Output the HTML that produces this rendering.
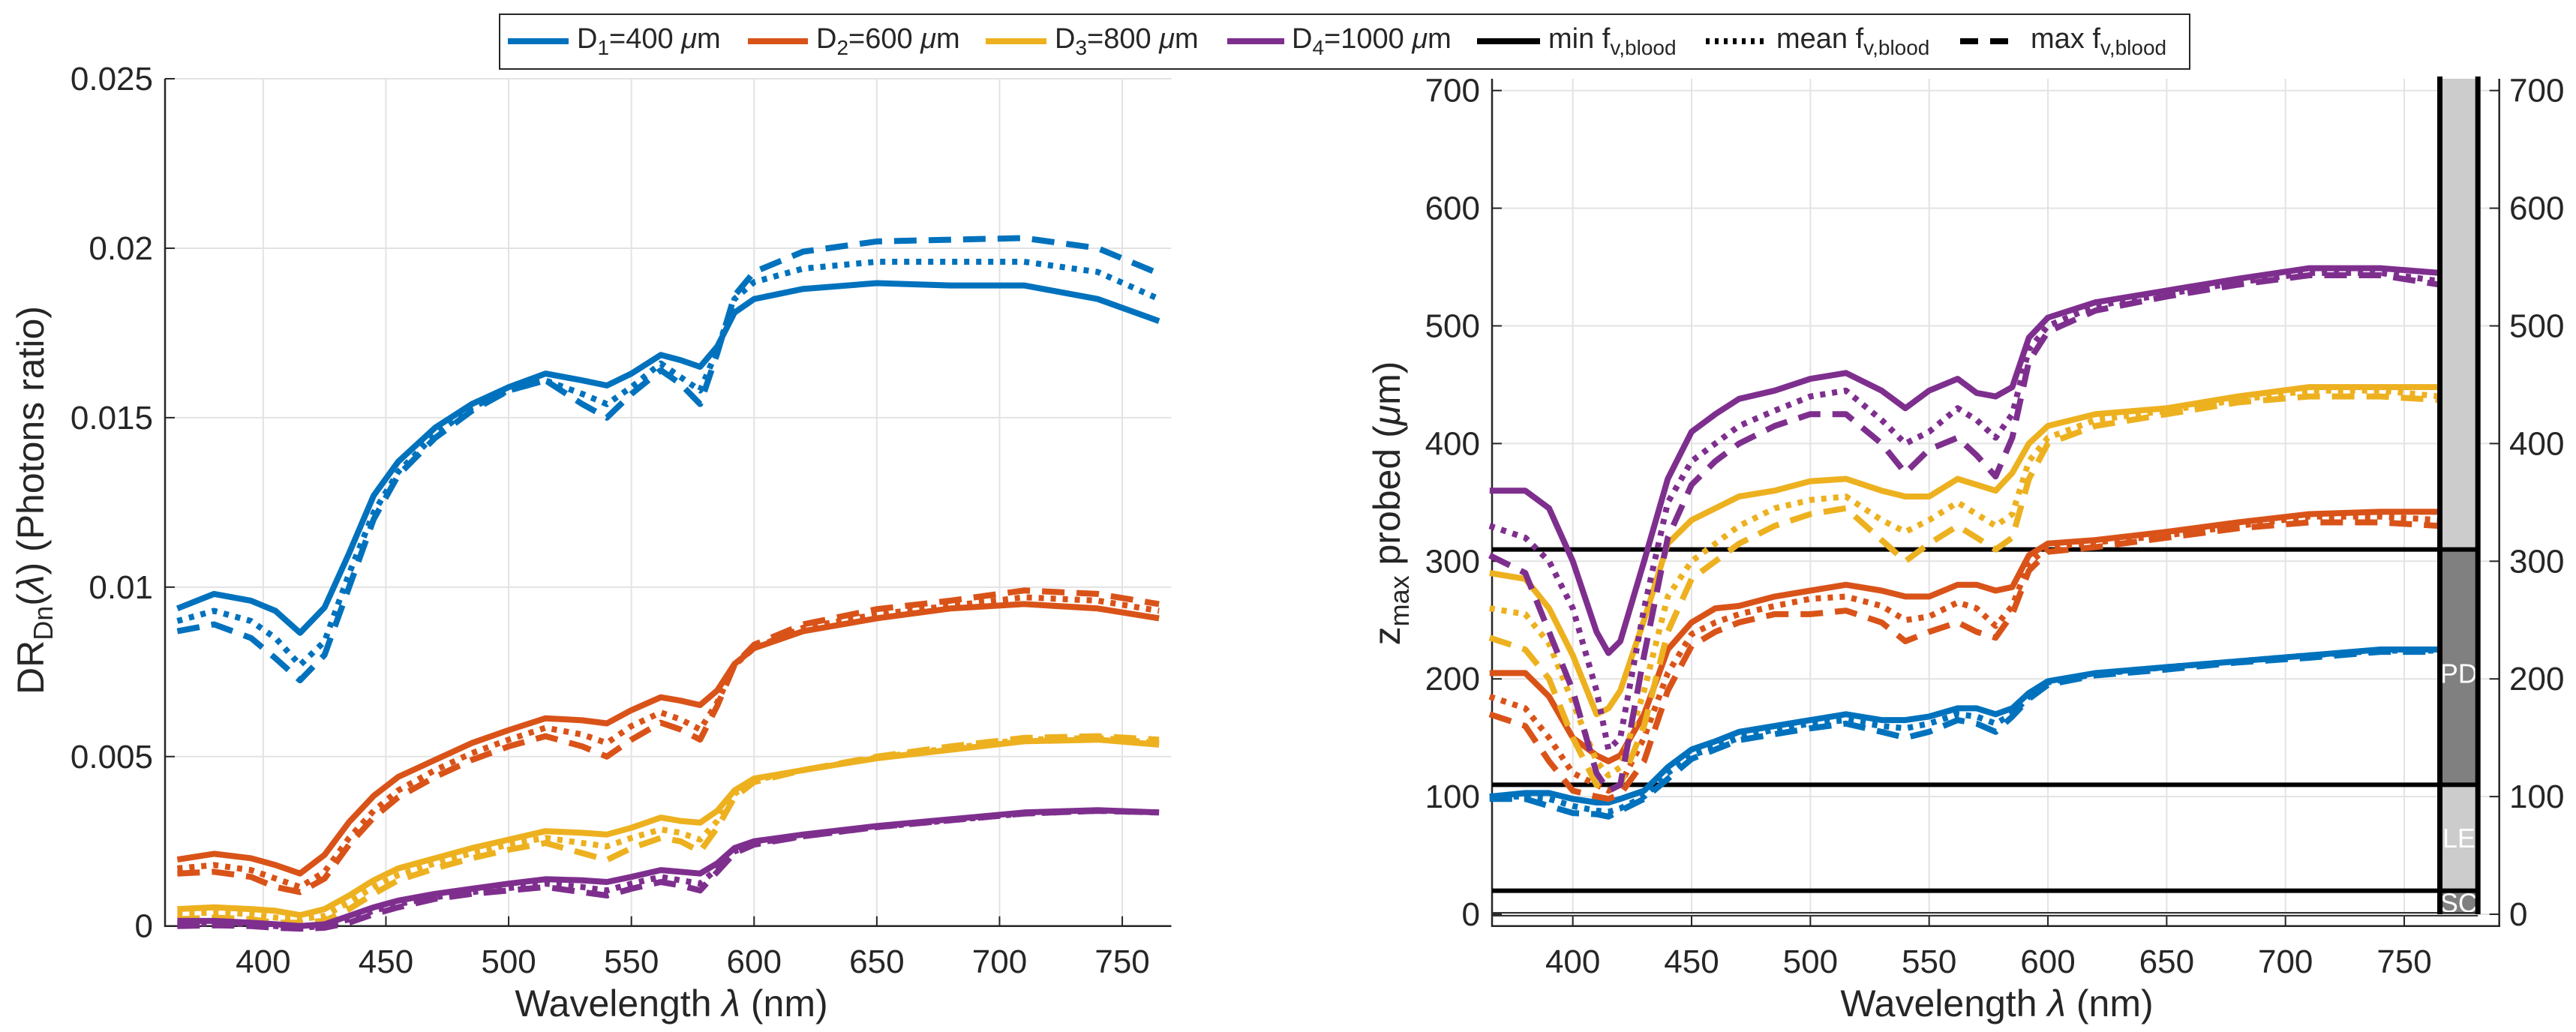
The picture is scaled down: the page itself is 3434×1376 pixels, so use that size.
<!DOCTYPE html>
<html><head><meta charset="utf-8"><style>
html,body{margin:0;padding:0;background:#fff}
svg{display:block}
text{font-family:"Liberation Sans",sans-serif;fill:#262626}
</style></head><body>
<svg id="chart" width="3434" height="1376" viewBox="0 0 3434 1376" xmlns="http://www.w3.org/2000/svg">
<g id="left"></g>
<g id="right"></g>
<g id="legend"></g>
</svg>
<script>
// ---------- data ----------
const wlLeft = [365,380,395,405,415,425,435,445,455,470,485,500,515,530,540,550,562,570,578,585,592,600,620,650,680,710,740,765];
const blueMinL  = [9.37,9.8,9.6,9.3,8.65,9.4,11.0,12.7,13.7,14.7,15.4,15.9,16.3,16.1,15.95,16.3,16.85,16.7,16.5,17.1,18.1,18.5,18.8,18.97,18.9,18.9,18.5,17.85];
const blueMeanL = [9.0,9.3,9.0,8.5,7.7,8.4,10.4,12.2,13.4,14.5,15.3,15.8,16.1,15.7,15.4,15.9,16.6,16.2,15.8,17.0,18.5,19.0,19.4,19.6,19.6,19.6,19.3,18.5];
const blueMaxL  = [8.7,8.9,8.5,7.9,7.25,8.0,10.0,12.0,13.3,14.4,15.2,15.8,16.1,15.4,15.0,15.7,16.4,16.0,15.4,16.9,18.6,19.3,19.9,20.2,20.25,20.3,20.0,19.25];
const redMinL   = [1.96,2.13,2.0,1.8,1.55,2.1,3.07,3.84,4.4,4.9,5.4,5.78,6.13,6.07,5.98,6.37,6.75,6.65,6.52,6.95,7.73,8.2,8.7,9.08,9.37,9.5,9.37,9.08];
const redMeanL  = [1.7,1.8,1.65,1.4,1.15,1.6,2.6,3.4,4.0,4.6,5.1,5.5,5.85,5.65,5.4,5.9,6.3,6.1,5.8,6.6,7.7,8.2,8.8,9.2,9.45,9.7,9.6,9.3];
const redMaxL   = [1.55,1.6,1.45,1.15,1.0,1.4,2.4,3.2,3.8,4.4,4.9,5.3,5.6,5.3,5.0,5.5,6.0,5.8,5.5,6.5,7.7,8.3,8.9,9.35,9.6,9.9,9.8,9.5];
const yelMinL   = [0.5,0.55,0.5,0.45,0.32,0.5,0.9,1.35,1.7,2.0,2.3,2.55,2.8,2.75,2.7,2.9,3.2,3.1,3.05,3.4,4.0,4.35,4.6,4.95,5.2,5.45,5.5,5.35];
const yelMeanL  = [0.35,0.4,0.35,0.25,0.2,0.3,0.7,1.15,1.5,1.85,2.15,2.4,2.6,2.45,2.35,2.6,2.85,2.75,2.55,3.1,3.9,4.3,4.6,4.97,5.25,5.5,5.55,5.4];
const yelMaxL   = [0.2,0.25,0.2,0.1,0.1,0.15,0.5,0.95,1.35,1.7,2.0,2.25,2.45,2.15,1.95,2.3,2.6,2.5,2.2,2.9,3.8,4.25,4.6,5.0,5.3,5.55,5.6,5.5];
const purMinL   = [0.15,0.15,0.1,0.05,0.0,0.05,0.3,0.55,0.75,0.95,1.1,1.25,1.38,1.35,1.3,1.45,1.65,1.6,1.55,1.85,2.3,2.5,2.7,2.95,3.15,3.35,3.42,3.35];
const purMeanL  = [0.05,0.08,0.05,0.0,-0.05,0.0,0.2,0.45,0.65,0.85,1.0,1.12,1.25,1.15,1.05,1.25,1.45,1.35,1.25,1.7,2.2,2.45,2.65,2.92,3.12,3.32,3.4,3.35];
const purMaxL   = [0.0,0.02,0.0,-0.05,-0.08,-0.05,0.1,0.35,0.55,0.8,0.95,1.05,1.15,1.0,0.9,1.1,1.3,1.2,1.05,1.6,2.15,2.4,2.65,2.92,3.12,3.32,3.4,3.35];

const wlRight = [365,380,390,400,410,415,420,430,440,450,460,470,485,500,515,530,540,550,562,570,578,585,592,600,620,650,680,710,740,765];
const purMinR  = [360,360,345,300,240,222,232,300,370,410,425,438,445,455,460,445,430,445,455,443,440,448,490,507,520,530,540,549,549,545];
const purMeanR = [330,320,300,260,190,140,150,260,350,385,400,415,428,440,445,420,400,410,430,420,405,425,480,500,517,527,537,545,545,538];
const purMaxR  = [305,290,240,190,120,105,110,220,320,365,385,400,415,425,425,400,375,395,405,390,372,405,470,495,513,525,535,543,543,535];
const yelMinR  = [290,285,260,220,170,175,190,250,315,335,345,355,360,368,370,360,355,355,370,365,360,375,400,415,425,430,440,448,448,448];
const yelMeanR = [260,255,230,180,130,118,125,190,270,300,315,330,345,352,355,335,325,335,350,340,330,340,385,405,420,428,437,445,445,440];
const yelMaxR  = [235,225,200,150,110,105,110,160,240,285,300,315,330,340,345,318,300,315,330,320,310,320,370,400,415,425,435,440,440,437];
const redMinR  = [205,205,185,150,135,130,135,170,225,248,260,262,270,275,280,275,270,270,280,280,275,278,305,315,318,325,333,340,342,342];
const redMeanR = [185,175,150,120,110,105,110,150,205,238,248,255,262,268,270,262,250,253,265,260,245,262,298,312,316,322,330,338,338,335];
const redMaxR  = [170,160,130,105,100,98,102,130,190,228,240,248,255,255,258,248,232,240,248,240,235,255,292,308,312,320,328,333,333,330];
const bluMinR  = [100,103,103,98,95,95,98,105,125,140,147,155,160,165,170,165,165,168,175,175,170,175,188,198,205,210,215,220,225,225];
const bluMeanR = [100,100,98,92,88,87,90,100,120,135,142,150,157,162,165,160,158,162,170,168,162,170,185,197,204,210,215,220,224,224];
const bluMaxR  = [98,98,92,86,85,83,88,98,115,132,140,148,153,158,162,155,150,155,165,162,155,168,183,195,203,208,214,218,223,223];

const xTicks = [400,450,500,550,600,650,700,750];
const yTicksL = [0,0.005,0.01,0.015,0.02,0.025];
const yTickLabelsL = ["0","0.005","0.01","0.015","0.02","0.025"];
const yTicksR = [0,100,200,300,400,500,600,700];
const layerBounds = [0,20,110,310,710];
const layerNames = ["SC","LE","PD",""];

// ---------- helpers ----------
const NS = "http://www.w3.org/2000/svg";
function mk(tag, parent, attrs){
  const e = document.createElementNS(NS, tag);
  for (const k in attrs) e.setAttribute(k, attrs[k]);
  parent.appendChild(e);
  return e;
}
const COL = {blue:"#0072BD", red:"#D95319", yel:"#EDB120", pur:"#7E2F8E"};
const DASH = {min:"", mean:"7,9", max:"30,16"};

const L = {x0:220, x1:1561.5, y0:1234.7, y1:105, xmin:360, xmax:770, ymin:0, ymax:0.025};
const xL = v => L.x0 + (v - L.xmin) / (L.xmax - L.xmin) * (L.x1 - L.x0);
const yL = v => L.y0 - (v - L.ymin) / (L.ymax - L.ymin) * (L.y0 - L.y1);
const R = {x0:1989, x1:3331.7, y0:1234.7, y1:105, xmin:366, xmax:790, ymin:-10, ymax:710};
const xR = v => R.x0 + (v - R.xmin) / (R.xmax - R.xmin) * (R.x1 - R.x0);
const yR = v => R.y0 - (v - R.ymin) / (R.ymax - R.ymin) * (R.y0 - R.y1);

const gL = document.getElementById("left");
const gR = document.getElementById("right");
const gLeg = document.getElementById("legend");

// ---------- left grid / axes ----------
for (const t of xTicks){
  const l = mk("line", gL, {x1:xL(t), x2:xL(t), y1:L.y1, y2:L.y0, stroke:"#e3e3e3", "stroke-width":2});
  
  
  const tk = mk("line", gL, {x1:xL(t), x2:xL(t), y1:L.y0, y2:L.y0-13, stroke:"#262626", "stroke-width":2});
  
  
  const tx = mk("text", gL, {x:xL(t), y:1297, "font-size":44, "text-anchor":"middle"});
  tx.textContent = t;
  
  
}
yTicksL.forEach((t,i)=>{
  const l = mk("line", gL, {x1:L.x0, x2:L.x1, y1:yL(t), y2:yL(t), stroke:"#e3e3e3", "stroke-width":2});
  
  
  const tk = mk("line", gL, {x1:L.x0, x2:L.x0+13, y1:yL(t), y2:yL(t), stroke:"#262626", "stroke-width":2});
  
  
  const tx = mk("text", gL, {x:204, y:yL(t)+15, "font-size":44, "text-anchor":"end"});
  tx.textContent = yTickLabelsL[i];
  
  
});
mk("path", gL, {d:`M${L.x0},${L.y1}V${L.y0}H${L.x1}`, fill:"none", stroke:"#262626", "stroke-width":2.5,  });

function drawSeries(g, xs, ys, xf, yf, color, dash, name){
  let d = "";
  xs.forEach((x,i)=>{ d += (i ? "L" : "M") + xf(x).toFixed(1) + "," + yf(ys[i]).toFixed(1); });
  const p = mk("path", g, {d, fill:"none", stroke:color, "stroke-width":8, "stroke-linejoin":"round"});
  if (dash) p.setAttribute("stroke-dasharray", dash);
  
  
}
const sc = v => v / 1000;
const leftSeries = [
  [blueMinL,"blue","min"],[blueMeanL,"blue","mean"],[blueMaxL,"blue","max"],
  [redMinL,"red","min"],[redMeanL,"red","mean"],[redMaxL,"red","max"],
  [yelMinL,"yel","min"],[yelMeanL,"yel","mean"],[yelMaxL,"yel","max"],
  [purMinL,"pur","min"],[purMeanL,"pur","mean"],[purMaxL,"pur","max"]];
for (const [arr,c,k] of leftSeries){
  drawSeries(gL, wlLeft, arr.map(sc), xL, yL, COL[c], DASH[k], `dr-${c}-${k}-line`);
}
let t1 = mk("text", gL, {x:895, y:1355, "font-size":50, "text-anchor":"middle",  });
t1.innerHTML = 'Wavelength <tspan font-style="italic">λ</tspan> (nm)';
let t2 = mk("text", gL, {x:0, y:0, "font-size":50, "text-anchor":"middle", transform:"translate(58,667) rotate(-90)",  });
t2.innerHTML = 'DR<tspan font-size="36" dy="12">Dn</tspan><tspan dy="-12">(</tspan><tspan font-style="italic">λ</tspan>) (Photons ratio)';

// ---------- right grid / axes ----------
for (const t of xTicks){
  const l = mk("line", gR, {x1:xR(t), x2:xR(t), y1:R.y1, y2:R.y0, stroke:"#e3e3e3", "stroke-width":2});
  
  
  const tk = mk("line", gR, {x1:xR(t), x2:xR(t), y1:R.y0, y2:R.y0-13, stroke:"#262626", "stroke-width":2});
  
  
  const tx = mk("text", gR, {x:xR(t), y:1297, "font-size":44, "text-anchor":"middle"});
  tx.textContent = t;
  
  
}
for (const t of yTicksR){
  const l = mk("line", gR, {x1:R.x0, x2:R.x1, y1:yR(t), y2:yR(t), stroke:"#e3e3e3", "stroke-width":2});
  
  
  const tk = mk("line", gR, {x1:R.x0, x2:R.x0+13, y1:yR(t), y2:yR(t), stroke:"#262626", "stroke-width":2});
  
  
  const tk2 = mk("line", gR, {x1:R.x1-13, x2:R.x1, y1:yR(t), y2:yR(t), stroke:"#262626", "stroke-width":2});
  
  
  const tx = mk("text", gR, {x:1973, y:yR(t)+15, "font-size":44, "text-anchor":"end"});
  tx.textContent = t;
  
  
  const tx2 = mk("text", gR, {x:3345, y:yR(t)+15, "font-size":44, "text-anchor":"start"});
  tx2.textContent = t;
  
  
}
mk("path", gR, {d:`M${R.x0},${R.y1}V${R.y0}H${R.x1}V${R.y1}`, fill:"none", stroke:"#262626", "stroke-width":2.5,  });

// layers bar
const bx0 = xR(765), bx1 = xR(781);
for (let i=0;i<4;i++){
  const dark = (i===0 || i===2);
  const top = i===3 ? R.y1 : yR(layerBounds[i+1]);
  const r = mk("rect", gR, {x:bx0, y:top, width:bx1-bx0, height:yR(layerBounds[i])-top, fill: dark ? "#808080" : "#cccccc"});
  
  
  if (layerNames[i]){
    const ly = i===0 ? yR(10)+13 : (i===1 ? yR(65)+13 : yR(205)+13);
    const tx = mk("text", gR, {x:(bx0+bx1)/2, y:ly, "font-size":36, "text-anchor":"middle", style:"fill:#fff"});
    tx.textContent = layerNames[i];
    
    
  }
}
for (const b of [20,110,310]){
  const l = mk("line", gR, {x1:R.x0, x2:bx1, y1:yR(b), y2:yR(b), stroke:"#000", "stroke-width":6});
  
  
}
mk("line", gR, {x1:R.x0, x2:bx1, y1:yR(0)-2, y2:yR(0)-2, stroke:"#333", "stroke-width":2,  });
mk("line", gR, {x1:R.x0, x2:bx1, y1:yR(0)+2, y2:yR(0)+2, stroke:"#333", "stroke-width":2,  });

const rightSeries = [
  [bluMinR,"blue","min"],[bluMeanR,"blue","mean"],[bluMaxR,"blue","max"],
  [redMinR,"red","min"],[redMeanR,"red","mean"],[redMaxR,"red","max"],
  [yelMinR,"yel","min"],[yelMeanR,"yel","mean"],[yelMaxR,"yel","max"],
  [purMinR,"pur","min"],[purMeanR,"pur","mean"],[purMaxR,"pur","max"]];
for (const [arr,c,k] of rightSeries){
  drawSeries(gR, wlRight, arr, xR, yR, COL[c], DASH[k], `zmax-${c}-${k}-line`);
}
mk("line", gR, {x1:bx0, x2:bx0, y1:102, y2:yR(0), stroke:"#000", "stroke-width":7,  });
mk("line", gR, {x1:bx1, x2:bx1, y1:102, y2:yR(0), stroke:"#000", "stroke-width":7,  });

let t3 = mk("text", gR, {x:2662, y:1355, "font-size":50, "text-anchor":"middle",  });
t3.innerHTML = 'Wavelength <tspan font-style="italic">λ</tspan> (nm)';
let t4 = mk("text", gR, {x:0, y:0, "font-size":50, "text-anchor":"middle", transform:"translate(1866,671) rotate(-90)",  });
t4.innerHTML = 'z<tspan font-size="36" dy="12">max</tspan><tspan dy="-12"> probed (</tspan><tspan font-style="italic">μ</tspan>m)';

// ---------- legend ----------
mk("rect", gLeg, {x:666, y:19, width:2253, height:73, fill:"#fff", stroke:"#262626", "stroke-width":2,  });
const legItems = [
  {x1:677,x2:758,tx:769,c:COL.blue,d:"",html:'D<tspan font-size="28" dy="9">1</tspan><tspan dy="-9">=400 </tspan><tspan font-style="italic">μ</tspan>m'},
  {x1:997,x2:1077,tx:1088,c:COL.red,d:"",html:'D<tspan font-size="28" dy="9">2</tspan><tspan dy="-9">=600 </tspan><tspan font-style="italic">μ</tspan>m'},
  {x1:1314,x2:1395,tx:1406,c:COL.yel,d:"",html:'D<tspan font-size="28" dy="9">3</tspan><tspan dy="-9">=800 </tspan><tspan font-style="italic">μ</tspan>m'},
  {x1:1636,x2:1712,tx:1722,c:COL.pur,d:"",html:'D<tspan font-size="28" dy="9">4</tspan><tspan dy="-9">=1000 </tspan><tspan font-style="italic">μ</tspan>m'},
  {x1:1969,x2:2053,tx:2064,c:"#000",d:"",html:'min f<tspan font-size="28" dy="9">v,blood</tspan>'},
  {x1:2274,x2:2357,tx:2368,c:"#000",d:"5,7",html:'mean f<tspan font-size="28" dy="9">v,blood</tspan>'},
  {x1:2613,x2:2690,tx:2707,c:"#000",d:"24,16",html:'max f<tspan font-size="28" dy="9">v,blood</tspan>'}
];
for (const it of legItems){
  const l = mk("line", gLeg, {x1:it.x1, x2:it.x2, y1:55, y2:55, stroke:it.c, "stroke-width":8});
  if (it.d) l.setAttribute("stroke-dasharray", it.d);
  
  
  const t = mk("text", gLeg, {x:it.tx, y:64, "font-size":38});
  t.innerHTML = it.html;
  
  
}
</script>
</body></html>
